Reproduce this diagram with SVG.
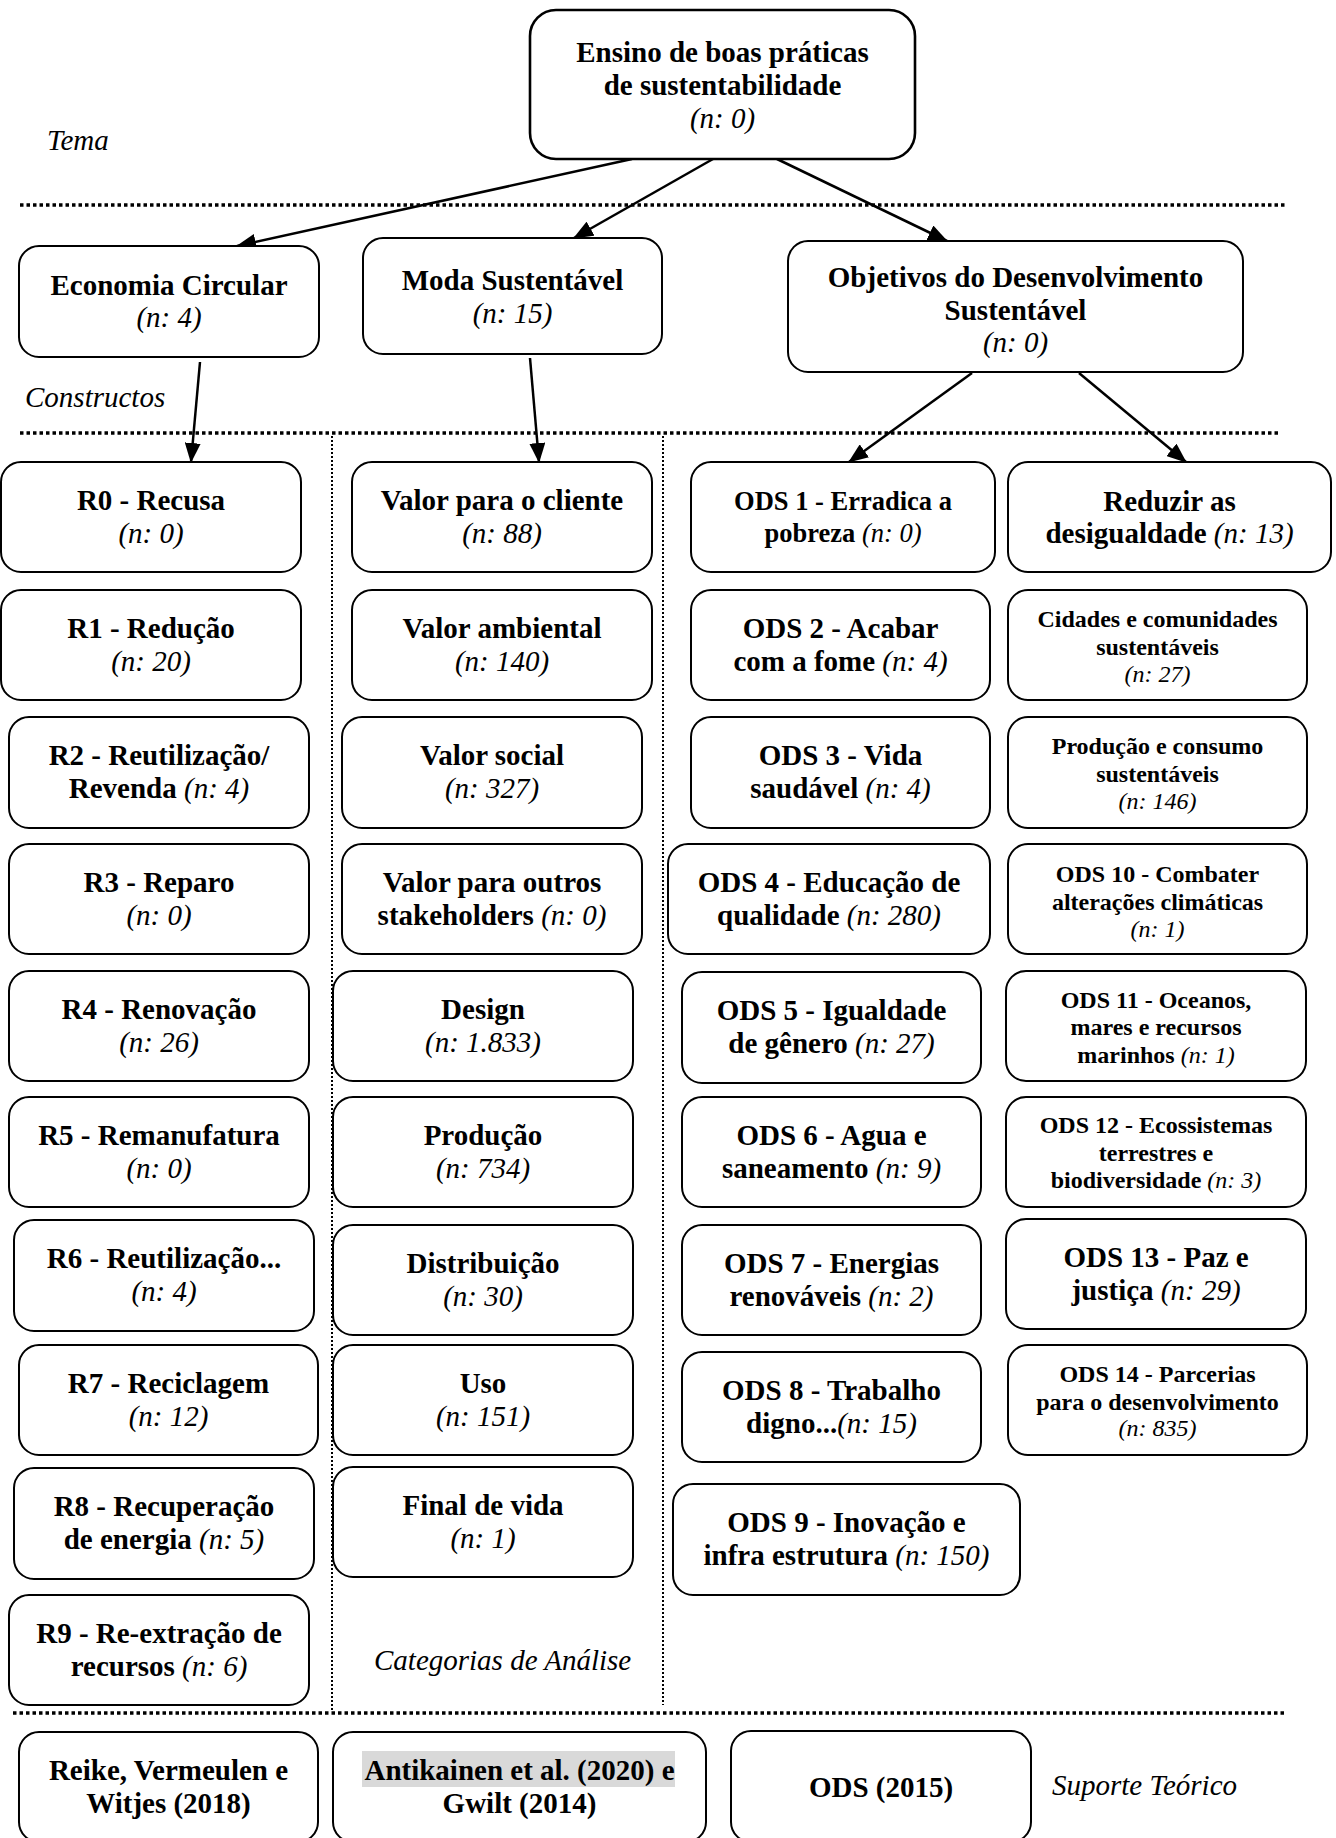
<svg xmlns="http://www.w3.org/2000/svg" width="1336" height="1838" viewBox="0 0 1336 1838" font-family="'Liberation Serif', Tinos, 'Nimbus Roman', 'Times New Roman', Times, serif">
<style>
text{font-family:'Liberation Serif', Tinos, 'Nimbus Roman', 'Times New Roman', Times, serif;fill:#000;text-anchor:middle}
.b{font-weight:bold;font-size:29px}
.s{font-weight:bold;font-size:24px}
.m{font-weight:bold;font-size:26.5px}
.i{font-style:italic;font-weight:normal}
.lbl{font-style:italic;font-size:29px;text-anchor:start}
.box{fill:#fff;stroke:#000;stroke-width:2}
.hd{fill:#fff;stroke:#000;stroke-width:2.6}
.dh{stroke:#000;stroke-width:3.5;stroke-dasharray:3.5 3;fill:none}
.dv{stroke:#000;stroke-width:2;stroke-dasharray:2 2;fill:none}
.ar{stroke:#000;stroke-width:2.5;fill:none;marker-end:url(#ah)}
</style>
<defs>
<marker id="ah" markerUnits="userSpaceOnUse" markerWidth="20" markerHeight="16" refX="19" refY="8" orient="auto">
<path d="M0,0 L20,8 L0,16 z" fill="#000"/>
</marker>
</defs>
<rect width="1336" height="1838" fill="#fff"/>

<g id="guides">
<line class="dh" x1="20" y1="205" x2="1286" y2="205"/>
<line class="dh" x1="20" y1="433" x2="1280" y2="433"/>
<line class="dh" x1="13" y1="1713" x2="1284" y2="1713"/>
<line class="dv" x1="332" y1="436" x2="332" y2="1712"/>
<line class="dv" x1="663" y1="436" x2="663" y2="1705"/>
<text class="lbl" x="47" y="150">Tema</text>
<text class="lbl" x="25" y="407">Constructos</text>
<text class="lbl" x="374" y="1670">Categorias de Análise</text>
<text class="lbl" x="1052" y="1795">Suporte Teórico</text>
</g>

<g id="connectors">
<line class="ar" x1="632" y1="159" x2="237" y2="246"/>
<line class="ar" x1="713" y1="159" x2="574" y2="238"/>
<line class="ar" x1="777" y1="159" x2="947" y2="241"/>
<line class="ar" x1="200" y1="362" x2="191" y2="462"/>
<line class="ar" x1="530" y1="358" x2="539" y2="462"/>
<line class="ar" x1="972" y1="373" x2="849" y2="462"/>
<line class="ar" x1="1079" y1="373" x2="1186" y2="462"/>
</g>

<g id="n-tema"><rect class="hd" x="530" y="10" width="385" height="149" rx="26"/>
<text class="b" x="722.5" y="62">Ensino de boas práticas</text><text class="b" x="722.5" y="95">de sustentabilidade</text><text class="b i" x="722.5" y="128">(n: 0)</text></g>

<g id="n-ec"><rect class="box" x="19" y="246" width="300" height="111" rx="20"/>
<text class="b" x="169" y="295">Economia Circular</text><text class="b i" x="169" y="327">(n: 4)</text></g>
<g id="n-ms"><rect class="box" x="363" y="238" width="299" height="116" rx="20"/>
<text class="b" x="512.5" y="290">Moda Sustentável</text><text class="b i" x="512.5" y="323">(n: 15)</text></g>
<g id="n-ods"><rect class="box" x="788" y="241" width="455" height="131" rx="20"/>
<text class="b" x="1015.5" y="287">Objetivos do Desenvolvimento</text><text class="b" x="1015.5" y="320">Sustentável</text><text class="b i" x="1015.5" y="352">(n: 0)</text></g>

<g id="n-r0"><rect class="box" x="1" y="462" width="300" height="110" rx="20"/>
<text class="b" x="151" y="510">R0 - Recusa</text><text class="b i" x="151" y="543">(n: 0)</text></g>
<g id="n-r1"><rect class="box" x="1" y="590" width="300" height="110" rx="20"/>
<text class="b" x="151" y="638">R1 - Redução</text><text class="b i" x="151" y="671">(n: 20)</text></g>
<g id="n-r2"><rect class="box" x="9" y="717" width="300" height="111" rx="20"/>
<text class="b" x="159" y="765">R2 - Reutilização/</text><text class="b" x="159" y="798">Revenda <tspan class="i">(n: 4)</tspan></text></g>
<g id="n-r3"><rect class="box" x="9" y="844" width="300" height="110" rx="20"/>
<text class="b" x="159" y="892">R3 - Reparo</text><text class="b i" x="159" y="925">(n: 0)</text></g>
<g id="n-r4"><rect class="box" x="9" y="971" width="300" height="110" rx="20"/>
<text class="b" x="159" y="1019">R4 - Renovação</text><text class="b i" x="159" y="1052">(n: 26)</text></g>
<g id="n-r5"><rect class="box" x="9" y="1097" width="300" height="110" rx="20"/>
<text class="b" x="159" y="1145">R5 - Remanufatura</text><text class="b i" x="159" y="1178">(n: 0)</text></g>
<g id="n-r6"><rect class="box" x="14" y="1220" width="300" height="111" rx="20"/>
<text class="b" x="164" y="1268">R6 - Reutilização...</text><text class="b i" x="164" y="1301">(n: 4)</text></g>
<g id="n-r7"><rect class="box" x="19" y="1345" width="299" height="110" rx="20"/>
<text class="b" x="168.5" y="1393">R7 - Reciclagem</text><text class="b i" x="168.5" y="1426">(n: 12)</text></g>
<g id="n-r8"><rect class="box" x="14" y="1468" width="300" height="111" rx="20"/>
<text class="b" x="164" y="1516">R8 - Recuperação</text><text class="b" x="164" y="1549">de energia <tspan class="i">(n: 5)</tspan></text></g>
<g id="n-r9"><rect class="box" x="9" y="1595" width="300" height="110" rx="20"/>
<text class="b" x="159" y="1643">R9 - Re-extração de</text><text class="b" x="159" y="1676">recursos <tspan class="i">(n: 6)</tspan></text></g>

<g id="n-vc"><rect class="box" x="352" y="462" width="300" height="110" rx="20"/>
<text class="b" x="502" y="510">Valor para o cliente</text><text class="b i" x="502" y="543">(n: 88)</text></g>
<g id="n-va"><rect class="box" x="352" y="590" width="300" height="110" rx="20"/>
<text class="b" x="502" y="638">Valor ambiental</text><text class="b i" x="502" y="671">(n: 140)</text></g>
<g id="n-vs"><rect class="box" x="342" y="717" width="300" height="111" rx="20"/>
<text class="b" x="492" y="765">Valor social</text><text class="b i" x="492" y="798">(n: 327)</text></g>
<g id="n-vo"><rect class="box" x="342" y="844" width="300" height="110" rx="20"/>
<text class="b" x="492" y="892">Valor para outros</text><text class="b" x="492" y="925">stakeholders <tspan class="i">(n: 0)</tspan></text></g>
<g id="n-de"><rect class="box" x="333" y="971" width="300" height="110" rx="20"/>
<text class="b" x="483" y="1019">Design</text><text class="b i" x="483" y="1052">(n: 1.833)</text></g>
<g id="n-pr"><rect class="box" x="333" y="1097" width="300" height="110" rx="20"/>
<text class="b" x="483" y="1145">Produção</text><text class="b i" x="483" y="1178">(n: 734)</text></g>
<g id="n-di"><rect class="box" x="333" y="1225" width="300" height="110" rx="20"/>
<text class="b" x="483" y="1273">Distribuição</text><text class="b i" x="483" y="1306">(n: 30)</text></g>
<g id="n-us"><rect class="box" x="333" y="1345" width="300" height="110" rx="20"/>
<text class="b" x="483" y="1393">Uso</text><text class="b i" x="483" y="1426">(n: 151)</text></g>
<g id="n-fv"><rect class="box" x="333" y="1467" width="300" height="110" rx="20"/>
<text class="b" x="483" y="1515">Final de vida</text><text class="b i" x="483" y="1548">(n: 1)</text></g>

<g id="n-ods1"><rect class="box" x="691" y="462" width="304" height="110" rx="20"/>
<text class="m" x="843" y="510">ODS 1 - Erradica a</text><text class="m" x="843" y="542">pobreza <tspan class="i">(n: 0)</tspan></text></g>
<g id="n-red"><rect class="box" x="1008" y="462" width="323" height="110" rx="20"/>
<text class="b" x="1169.5" y="511">Reduzir as</text><text class="b" x="1169.5" y="543">desigualdade <tspan class="i">(n: 13)</tspan></text></g>
<g id="n-ods2"><rect class="box" x="691" y="590" width="299" height="110" rx="20"/>
<text class="b" x="840.5" y="638">ODS 2 - Acabar</text><text class="b" x="840.5" y="671">com a fome <tspan class="i">(n: 4)</tspan></text></g>
<g id="n-cid"><rect class="box" x="1008" y="590" width="299" height="110" rx="20"/>
<text class="s" x="1157.5" y="627">Cidades e comunidades</text><text class="s" x="1157.5" y="655">sustentáveis</text><text class="s i" x="1157.5" y="682">(n: 27)</text></g>
<g id="n-ods3"><rect class="box" x="691" y="717" width="299" height="111" rx="20"/>
<text class="b" x="840.5" y="765">ODS 3 - Vida</text><text class="b" x="840.5" y="798">saudável <tspan class="i">(n: 4)</tspan></text></g>
<g id="n-pc"><rect class="box" x="1008" y="717" width="299" height="111" rx="20"/>
<text class="s" x="1157.5" y="754">Produção e consumo</text><text class="s" x="1157.5" y="782">sustentáveis</text><text class="s i" x="1157.5" y="809">(n: 146)</text></g>
<g id="n-ods4"><rect class="box" x="668" y="844" width="322" height="110" rx="20"/>
<text class="b" x="829" y="892">ODS 4 - Educação de</text><text class="b" x="829" y="925">qualidade <tspan class="i">(n: 280)</tspan></text></g>
<g id="n-ods10"><rect class="box" x="1008" y="844" width="299" height="110" rx="20"/>
<text class="s" x="1157.5" y="882">ODS 10 - Combater</text><text class="s" x="1157.5" y="910">alterações climáticas</text><text class="s i" x="1157.5" y="937">(n: 1)</text></g>
<g id="n-ods5"><rect class="box" x="682" y="972" width="299" height="111" rx="20"/>
<text class="b" x="831.5" y="1020">ODS 5 - Igualdade</text><text class="b" x="831.5" y="1053">de gênero <tspan class="i">(n: 27)</tspan></text></g>
<g id="n-ods11"><rect class="box" x="1006" y="971" width="300" height="110" rx="20"/>
<text class="s" x="1156" y="1008">ODS 11 - Oceanos,</text><text class="s" x="1156" y="1035">mares e recursos</text><text class="s" x="1156" y="1063">marinhos <tspan class="i">(n: 1)</tspan></text></g>
<g id="n-ods6"><rect class="box" x="682" y="1097" width="299" height="110" rx="20"/>
<text class="b" x="831.5" y="1145">ODS 6 - Agua e</text><text class="b" x="831.5" y="1178">saneamento <tspan class="i">(n: 9)</tspan></text></g>
<g id="n-ods12"><rect class="box" x="1006" y="1097" width="300" height="110" rx="20"/>
<text class="s" x="1156" y="1133">ODS 12 - Ecossistemas</text><text class="s" x="1156" y="1161">terrestres e</text><text class="s" x="1156" y="1188">biodiversidade <tspan class="i">(n: 3)</tspan></text></g>
<g id="n-ods7"><rect class="box" x="682" y="1225" width="299" height="110" rx="20"/>
<text class="b" x="831.5" y="1273">ODS 7 - Energias</text><text class="b" x="831.5" y="1306">renováveis <tspan class="i">(n: 2)</tspan></text></g>
<g id="n-ods13"><rect class="box" x="1006" y="1219" width="300" height="110" rx="20"/>
<text class="b" x="1156" y="1267">ODS 13 - Paz e</text><text class="b" x="1156" y="1300">justiça <tspan class="i">(n: 29)</tspan></text></g>
<g id="n-ods8"><rect class="box" x="682" y="1352" width="299" height="110" rx="20"/>
<text class="b" x="831.5" y="1400">ODS 8 - Trabalho</text><text class="b" x="831.5" y="1433">digno...<tspan class="i">(n: 15)</tspan></text></g>
<g id="n-ods14"><rect class="box" x="1008" y="1345" width="299" height="110" rx="20"/>
<text class="s" x="1157.5" y="1382">ODS 14 - Parcerias</text><text class="s" x="1157.5" y="1410">para o desenvolvimento</text><text class="s i" x="1157.5" y="1436">(n: 835)</text></g>
<g id="n-ods9"><rect class="box" x="673" y="1484" width="347" height="111" rx="20"/>
<text class="b" x="846.5" y="1532">ODS 9 - Inovação e</text><text class="b" x="846.5" y="1565">infra estrutura <tspan class="i">(n: 150)</tspan></text></g>

<g id="n-reike"><rect class="box" x="19" y="1732" width="299" height="110" rx="20"/>
<text class="b" x="168.5" y="1780">Reike, Vermeulen e</text><text class="b" x="168.5" y="1813">Witjes (2018)</text></g>
<g id="n-anti"><rect class="box" x="333" y="1732" width="373" height="110" rx="20"/>
<rect x="362" y="1751" width="313" height="36" fill="#d9d9d9"/>
<text class="b" x="519.5" y="1780">Antikainen et al. (2020) e</text><text class="b" x="519.5" y="1813">Gwilt (2014)</text></g>
<g id="n-ods2015"><rect class="box" x="731" y="1731" width="300" height="111" rx="20"/>
<text class="b" x="881" y="1797">ODS (2015)</text></g>
</svg>
